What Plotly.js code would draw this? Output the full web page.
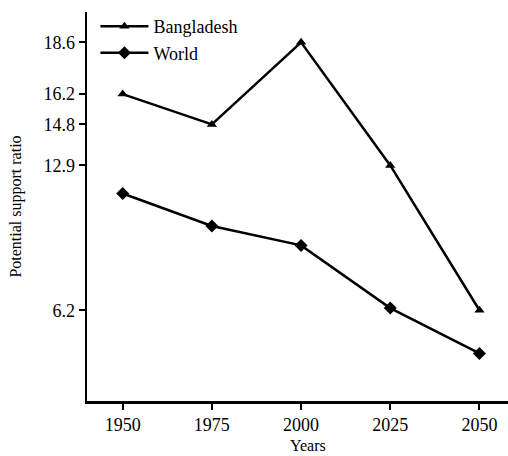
<!DOCTYPE html>
<html><head><meta charset="utf-8">
<script src="https://cdn.plot.ly/plotly-3.0.1.min.js"></script>
<style>html,body{margin:0;padding:0;background:#fff;}#chart{width:508px;height:456px;}</style>
</head><body><div id="chart"></div>
<script>
const years = [1950, 1975, 2000, 2025, 2050];
const bangladesh = [16.2, 14.8, 18.6, 12.9, 6.2];
const world = [11.6, 10.1, 9.2, 6.3, 4.2];
const yTicks = [6.2, 12.9, 14.8, 16.2, 18.6];
const xTicks = [1950, 1975, 2000, 2025, 2050];

const font = {family: 'Liberation Serif, Times New Roman, serif', color: '#000'};
const f = s => Object.assign({size: s}, font);

const traces = [
  {x: years, y: bangladesh, name: 'Bangladesh', mode: 'lines+markers', type: 'scatter',
   line: {color: '#000', width: 2.5}, marker: {symbol: 'triangle-up', size: 9, color: '#000'}},
  {x: years, y: world, name: 'World', mode: 'lines+markers', type: 'scatter',
   line: {color: '#000', width: 2.5}, marker: {symbol: 'diamond', size: 10, color: '#000'}}
];

const layout = {
  width: 508, height: 456,
  margin: {l: 87, r: 0, t: 12, b: 55},
  paper_bgcolor: '#fff', plot_bgcolor: '#fff',
  font: f(16),
  showlegend: true,
  legend: {x: 0.02, y: 1.01, xanchor: 'left', yanchor: 'top', bgcolor: 'rgba(0,0,0,0)',
           font: f(18), tracegroupgap: 0, itemwidth: 48},
  xaxis: {range: [1940, 2058], tickvals: xTicks, ticktext: xTicks.map(String),
          showgrid: false, zeroline: false, showline: true, linecolor: '#000', linewidth: 2.5,
          ticks: 'outside', ticklen: 6, tickwidth: 2, tickcolor: '#000',
          tickfont: f(18)},
  yaxis: {range: [2, 20], tickvals: yTicks, ticktext: yTicks.map(v => v.toFixed(1)),
          showgrid: false, zeroline: false, showline: true, linecolor: '#000', linewidth: 2.5,
          ticks: 'outside', ticklen: 6, tickwidth: 2, tickcolor: '#000',
          tickfont: f(18),
          title: {text: 'Potential support ratio', font: f(16), standoff: 18}},
  annotations: [
    {text: 'Years', xref: 'paper', yref: 'paper', x: 0.5, y: 0, yshift: -44, xshift: 10,
     showarrow: false, font: f(16), xanchor: 'center', yanchor: 'middle'}
  ]
};

Plotly.newPlot('chart', traces, layout, {displayModeBar: false, staticPlot: true});
</script>
</body></html>
